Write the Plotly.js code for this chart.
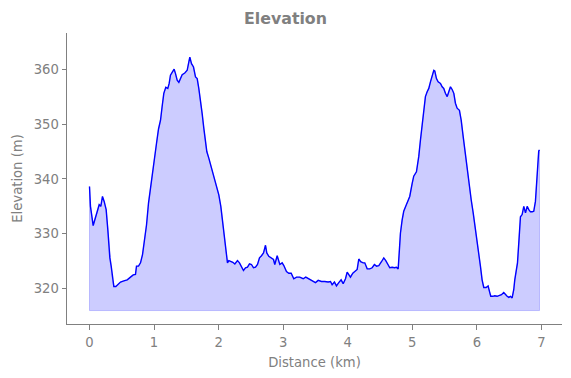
<!DOCTYPE html>
<html>
<head>
<meta charset="utf-8">
<script src="https://cdn.plot.ly/plotly-3.0.1.min.js"></script>
<style>html,body{margin:0;padding:0;background:#fff;}#chart{width:571px;height:378px;}</style>
</head>
<body>
<div id="chart"></div>
<script>
const distanceKm = [0.000,0.015,0.057,0.088,0.119,0.150,0.175,0.201,0.227,0.258,0.284,0.315,0.336,0.356,0.377,0.408,0.439,0.480,0.532,0.584,0.635,0.677,0.712,0.728,0.759,0.790,0.821,0.852,0.883,0.914,0.945,0.976,1.007,1.038,1.069,1.100,1.125,1.151,1.182,1.213,1.234,1.254,1.285,1.311,1.332,1.358,1.384,1.404,1.435,1.476,1.513,1.538,1.554,1.580,1.611,1.642,1.668,1.693,1.719,1.745,1.771,1.796,1.817,1.848,1.879,1.910,1.941,1.972,2.003,2.034,2.065,2.096,2.117,2.137,2.158,2.189,2.220,2.251,2.292,2.323,2.354,2.385,2.416,2.447,2.478,2.509,2.540,2.571,2.602,2.633,2.664,2.695,2.726,2.746,2.777,2.819,2.850,2.870,2.907,2.948,2.984,3.010,3.051,3.087,3.124,3.164,3.206,3.257,3.309,3.350,3.396,3.449,3.500,3.542,3.593,3.644,3.696,3.733,3.758,3.794,3.825,3.861,3.897,3.929,3.965,3.991,4.017,4.042,4.078,4.109,4.146,4.171,4.200,4.239,4.264,4.301,4.341,4.378,4.413,4.445,4.481,4.522,4.558,4.589,4.620,4.651,4.688,4.723,4.754,4.781,4.800,4.816,4.842,4.867,4.898,4.929,4.960,4.998,5.022,5.064,5.100,5.126,5.152,5.177,5.203,5.230,5.255,5.281,5.307,5.333,5.348,5.374,5.400,5.436,5.462,5.487,5.513,5.540,5.565,5.591,5.617,5.643,5.668,5.694,5.730,5.757,5.788,5.819,5.850,5.881,5.912,5.943,5.974,6.004,6.035,6.055,6.081,6.107,6.143,6.174,6.195,6.215,6.246,6.277,6.313,6.350,6.381,6.416,6.442,6.469,6.494,6.520,6.546,6.571,6.587,6.613,6.629,6.649,6.675,6.701,6.727,6.753,6.779,6.804,6.830,6.856,6.881,6.907,6.923,6.938,6.958,6.970];
const elevationM = [338.6,335.0,331.5,332.9,333.8,335.3,335.0,336.8,335.9,334.4,330.7,325.6,324.1,321.6,320.4,320.4,320.8,321.2,321.4,321.6,322.1,322.5,322.6,324.1,324.1,324.7,326.2,328.9,331.6,335.6,338.6,341.6,344.1,346.5,349.1,350.7,353.2,355.6,356.7,356.5,357.4,358.9,359.5,360.0,359.2,358.0,357.6,358.1,359.0,359.3,359.8,361.3,362.2,361.0,360.4,358.6,358.3,356.5,354.4,351.9,349.2,347.1,345.0,343.8,342.5,341.3,339.5,338.7,337.1,335.0,331.9,328.6,326.5,324.7,325.1,325.0,324.8,324.5,325.1,324.7,323.9,323.3,323.8,323.9,324.5,324.4,323.8,323.9,324.4,325.6,326.0,326.5,327.9,326.5,325.9,325.6,325.3,324.4,326.0,324.4,324.7,324.2,323.1,322.8,322.8,321.8,322.1,322.1,321.8,322.1,321.8,321.3,321.1,321.5,321.3,321.3,321.2,321.3,320.7,321.2,320.5,321.1,321.6,320.9,321.8,323.0,322.4,322.1,322.8,323.1,323.5,325.4,324.9,324.7,324.7,323.6,323.6,323.8,324.4,324.1,324.2,324.9,325.6,325.1,324.4,323.8,323.9,323.8,323.9,323.6,327.1,330.1,332.5,334.1,335.0,335.9,336.8,339.2,340.5,341.3,344.1,347.1,349.8,352.2,355.0,355.9,356.5,357.7,358.7,359.8,359.7,358.3,357.7,357.4,356.8,356.5,355.6,355.0,355.9,356.8,356.3,355.6,353.8,352.9,352.5,350.7,347.7,344.7,341.6,338.6,336.2,333.8,331.3,328.9,326.5,324.1,321.6,320.2,320.2,320.5,319.5,318.6,318.6,318.7,318.6,318.7,318.9,319.3,318.9,318.6,318.4,318.6,318.3,319.8,321.6,323.1,324.7,328.3,333.1,333.5,335.0,333.8,335.0,334.4,334.0,334.0,334.1,335.9,339.2,341.0,345.1,345.3];
const fillBase = 316;
const xTicks = [0,1,2,3,4,5,6,7];
const yTicks = [320,330,340,350,360];

const n = distanceKm.length;
const polyX = [distanceKm[0]].concat(distanceKm, [distanceKm[n-1], distanceKm[0]]);
const polyY = [fillBase].concat(elevationM, [fillBase, fillBase]);

const grey = '#808080';
const font = {family: 'DejaVu Sans, sans-serif', size: 13.2, color: grey};

const traces = [
  {x: polyX, y: polyY, type: 'scatter', mode: 'lines', fill: 'toself',
   fillcolor: 'rgba(0,0,255,0.2)', line: {color: 'rgba(0,0,255,0.2)', width: 1},
   hoverinfo: 'skip', showlegend: false},
  {x: distanceKm, y: elevationM, type: 'scatter', mode: 'lines',
   line: {color: '#0000ff', width: 1.4}, showlegend: false}
];

const layout = {
  width: 571, height: 378,
  margin: {l: 67, r: 9, t: 33, b: 54},
  paper_bgcolor: '#ffffff', plot_bgcolor: '#ffffff',
  font: font,
  title: {text: '<b>Elevation</b>', x: 0.5, xref: 'container', y: 0.95, yref: 'container', yanchor: 'middle',
          font: {family: 'DejaVu Sans, sans-serif', size: 15.8, color: grey}},
  xaxis: {range: [-0.3485, 7.3185], tickvals: xTicks, ticks: 'outside', ticklen: 4.5, tickwidth: 1,
          tickcolor: grey, showline: true, linecolor: grey, linewidth: 1, showgrid: false, zeroline: false,
          ticklabelstandoff: 2,
          tickfont: font, title: {text: 'Distance (km)', font: font, standoff: 8}},
  yaxis: {range: [313.55, 366.6], tickvals: yTicks, ticks: 'outside', ticklen: 4.5, tickwidth: 1,
          tickcolor: grey, showline: true, linecolor: grey, linewidth: 1, showgrid: false, zeroline: false,
          tickfont: font, title: {text: 'Elevation (m)', font: font, standoff: 8}}
};

Plotly.newPlot('chart', traces, layout, {displayModeBar: false, staticPlot: true});
</script>
</body>
</html>
